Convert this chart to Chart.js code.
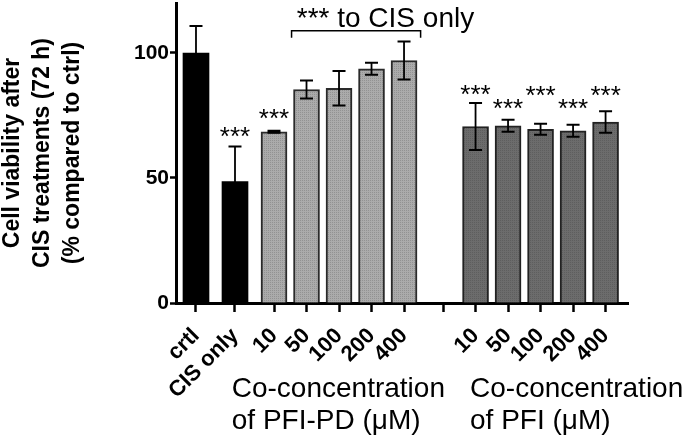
<!DOCTYPE html>
<html><head><meta charset="utf-8">
<script src="https://cdn.jsdelivr.net/npm/chart.js@4.4.1/dist/chart.umd.min.js"></script>
<style>html,body{margin:0;padding:0;background:#fff;overflow:hidden}</style>
</head><body>
<canvas id="c" width="685" height="442"></canvas>
<script>
// ---- data ----
const controlLabels = ['crtl', 'CIS only'];
const doseLabels = ['10', '50', '100', '200', '400'];
const controlValues = [100, 48.6];
const controlErrors = [10.8, 14.0];
const pfiPdValues = [68.5, 85.4, 85.9, 93.7, 97.0];
const pfiPdErrors = [0.4, 3.6, 6.9, 2.4, 7.6];
const pfiValues = [70.6, 70.9, 69.5, 68.9, 72.4];
const pfiErrors = [9.4, 2.4, 2.2, 2.4, 4.3];
const yTicks = [0, 50, 100];
const starText = '***';
const starLevels = [69.1, 76.5, 86.1, 80.6, 85.6, 80.3, 85.5]; // CIS only, PFI-PD 10, PFI 10..400
const bracketLabel = '*** to CIS only';
const bracketLevel = 108.9;
const groupLabels = [['Co-concentration', 'of PFI-PD (\u03bcM)'], ['Co-concentration', 'of PFI (\u03bcM)']];
const yTitle = ['Cell viability after', 'CIS treatments (72 h)', '(% compared to ctrl)'];

// ---- layout (positions on the x axis, in category units) ----
const controlPos = [0, 1.2];
const pfiPdPos = [2.4, 3.4, 4.4, 5.4, 6.4];
const gapPos = 7.6;
const pfiPos = [8.6, 9.6, 10.6, 11.6, 12.6];
const starPos = [1.2, 2.4, 8.6, 9.6, 10.6, 11.6, 12.6];

const tickPos = [...controlPos, ...pfiPdPos, gapPos, ...pfiPos];
const tickLabels = [...controlLabels, ...doseLabels, '', ...doseLabels];
const allPos = [...controlPos, ...pfiPdPos, ...pfiPos];
const allVals = [...controlValues, ...pfiPdValues, ...pfiValues];
const allErrs = [...controlErrors, ...pfiPdErrors, ...pfiErrors];

function dotPattern(base, dot) {
  const c = document.createElement('canvas'); c.width = 2; c.height = 2;
  const g = c.getContext('2d');
  g.fillStyle = base; g.fillRect(0, 0, 2, 2);
  g.fillStyle = dot; g.fillRect(0, 0, 1, 1);
  return g.createPattern(c, 'repeat');
}
const FONT = '"Liberation Sans", Arial, sans-serif';

const annot = {
  id: 'annot',
  afterDatasetsDraw(chart) {
    const { ctx, scales: { x, y } } = chart;
    ctx.save();
    ctx.strokeStyle = '#000';
    ctx.lineWidth = 1.8;
    ctx.beginPath();
    allPos.forEach((p, i) => {
      const px = x.getPixelForValue(p);
      const t = y.getPixelForValue(allVals[i] + allErrs[i]);
      const b = y.getPixelForValue(allVals[i] - allErrs[i]);
      ctx.moveTo(px, t); ctx.lineTo(px, b);
      ctx.moveTo(px - 6.5, t); ctx.lineTo(px + 6.5, t);
      ctx.moveTo(px - 6.5, b); ctx.lineTo(px + 6.5, b);
    });
    ctx.stroke();
    // stars
    ctx.fillStyle = '#000';
    ctx.font = '26px ' + FONT;
    ctx.textAlign = 'center';
    ctx.textBaseline = 'alphabetic';
    starPos.forEach((p, i) => {
      ctx.fillText(starText, x.getPixelForValue(p), y.getPixelForValue(starLevels[i]) + 15);
    });
    // bracket
    const by = y.getPixelForValue(bracketLevel);
    const bx1 = x.getPixelForValue(2.94), bx2 = x.getPixelForValue(6.91);
    ctx.lineWidth = 1.5;
    ctx.beginPath();
    ctx.moveTo(bx1, by + 7); ctx.lineTo(bx1, by); ctx.lineTo(bx2, by); ctx.lineTo(bx2, by + 7);
    ctx.stroke();
    ctx.textAlign = 'left';
    ctx.font = '28px ' + FONT;
    ctx.fillText(bracketLabel, x.getPixelForValue(3.1), by - 4);
    // group labels
    ctx.font = '28px ' + FONT;
    const gx = [x.getPixelForValue(1.1), x.getPixelForValue(8.43)];
    groupLabels.forEach((lines, gi) => {
      lines.forEach((ln, li) => ctx.fillText(ln, gx[gi], x.top + 94 + li * 31.5));
    });
    ctx.restore();
  }
};

new Chart(document.getElementById('c'), {
  type: 'bar',
  data: {
    datasets: [
      { data: controlPos.map((p, i) => ({ x: p, y: controlValues[i] })), backgroundColor: '#000', borderColor: '#000', borderWidth: 0 },
      { data: pfiPdPos.map((p, i) => ({ x: p, y: pfiPdValues[i] })), backgroundColor: dotPattern('#ababab', '#929292'), borderColor: '#2a2a2a', borderWidth: 2 },
      { data: pfiPos.map((p, i) => ({ x: p, y: pfiValues[i] })), backgroundColor: dotPattern('#6c6c6c', '#5e5e5e'), borderColor: '#222', borderWidth: 2 }
    ]
  },
  options: {
    responsive: false, animation: false, devicePixelRatio: 1,
    layout: { padding: { left: 0, right: 57, top: 3, bottom: 0 } },
    datasets: { bar: { barThickness: 26, grouped: false } },
    plugins: { legend: { display: false }, tooltip: { enabled: false } },
    scales: {
      x: {
        type: 'linear', min: -0.615, max: 13.29, offset: false,
        afterBuildTicks: s => { s.ticks = tickPos.map(v => ({ value: v })); },
        afterFit: s => { s.height = 139; s.paddingLeft = 0; s.paddingRight = 0; },
        ticks: {
          autoSkip: false, maxRotation: 45, minRotation: 45, padding: 11, color: '#000',
          font: { family: FONT, weight: 'bold', size: 22 },
          callback: (v, i) => tickLabels[i]
        },
        grid: { drawOnChartArea: false, drawTicks: true, tickLength: 9, tickWidth: 2.5, tickColor: '#000', offset: false },
        border: { display: true, color: '#000', width: 3 }
      },
      y: {
        min: 0, max: 120,
        afterBuildTicks: s => { s.ticks = yTicks.map(v => ({ value: v })); },
        afterFit: s => { s.width = 176; s.paddingTop = 0; s.paddingBottom = 0; },
        ticks: { padding: 1, color: '#000', font: { family: FONT, weight: 'bold', size: 21 } },
        grid: { drawOnChartArea: false, drawTicks: true, tickLength: 6, tickWidth: 2.5, tickColor: '#000' },
        border: { display: true, color: '#000', width: 3 },
        title: { display: true, text: yTitle, color: '#000', padding: { top: -2, bottom: 0 },
          font: { family: FONT, weight: 'bold', size: 23, lineHeight: 1.3 } }
      }
    }
  },
  plugins: [annot]
});
</script>
</body></html>
